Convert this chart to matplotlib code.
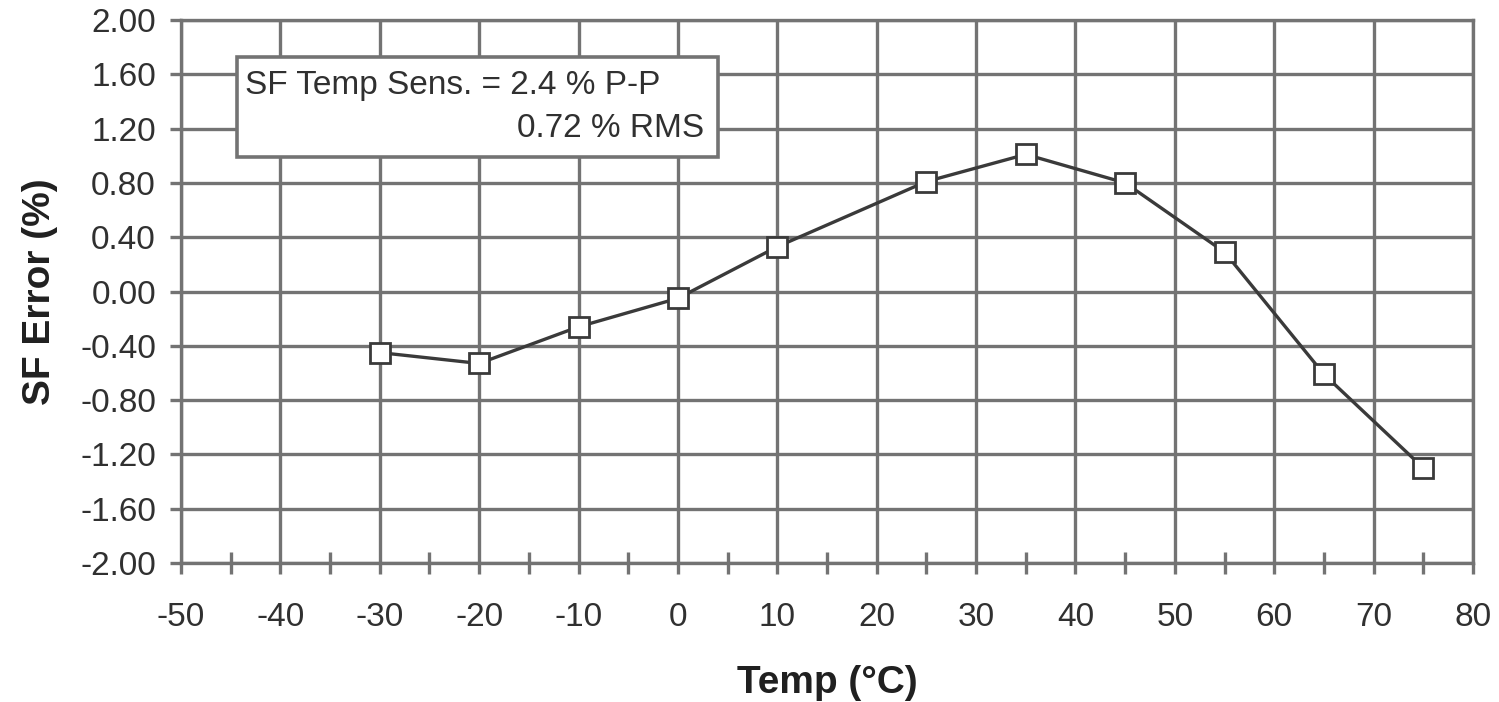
import matplotlib.pyplot as plt
from matplotlib.patches import Rectangle
from matplotlib.ticker import MultipleLocator

plt.rcParams['font.family'] = ['Liberation Sans', 'DejaVu Sans']
plt.rcParams['axes.unicode_minus'] = False

# SF error vs temperature
temp = [-30, -20, -10, 0, 10, 25, 35, 45, 55, 65, 75]
sf_error = [-0.45, -0.53, -0.26, -0.05, 0.33, 0.81, 1.01, 0.80, 0.29, -0.61, -1.30]

x_ticks = list(range(-50, 81, 10))
y_ticks = [-2.0, -1.6, -1.2, -0.8, -0.4, 0.0, 0.4, 0.8, 1.2, 1.6, 2.0]

grid_col = '#737373'
line_col = '#3a3a3a'

fig = plt.figure(figsize=(14.99, 7.02), dpi=100)
ax = fig.add_axes([0.1207, 0.198, 0.862, 0.7735])

ax.plot(temp, sf_error, color=line_col, lw=2.4, marker='s', ms=14,
        mfc='white', mec=line_col, mew=2.0, zorder=4, clip_on=False)

ax.set_xlim(-50, 80)
ax.set_ylim(-2.0, 2.0)
ax.set_xticks(x_ticks)
ax.set_yticks(y_ticks)
ax.set_yticklabels(['%.2f' % v for v in y_ticks])
ax.xaxis.set_minor_locator(MultipleLocator(5))

ax.grid(True, which='major', color=grid_col, lw=2.4, zorder=1)
ax.set_axisbelow(True)
for s in ax.spines.values():
    s.set_color(grid_col)
    s.set_linewidth(2.4)

ax.tick_params(axis='both', which='major', labelsize=24, colors='#303030',
               length=8, width=2.4, color=grid_col)
ax.tick_params(axis='x', which='major', pad=20)
ax.tick_params(axis='y', which='major', pad=10)
ax.tick_params(axis='x', which='minor', direction='inout', length=16,
               width=2.4, color=grid_col)

ax.set_xlabel('Temp (°C)', fontsize=28, fontweight='bold', color='#202020', labelpad=23)
ax.set_ylabel('SF Error (%)', fontsize=28, fontweight='bold', color='#202020', labelpad=16)

# annotation box
box = Rectangle((-44.4, 0.99), 48.4, 0.74, facecolor='white', edgecolor=grid_col,
                lw=2.6, zorder=5)
ax.add_patch(box)
ax.text(-43.6, 1.52, 'SF Temp Sens. = 2.4 % P-P', fontsize=24, color='#303030',
        ha='left', va='center', zorder=6)
ax.text(2.6, 1.20, '0.72 % RMS', fontsize=24, color='#303030',
        ha='right', va='center', zorder=6)

fig.savefig('out.png', dpi=100)
